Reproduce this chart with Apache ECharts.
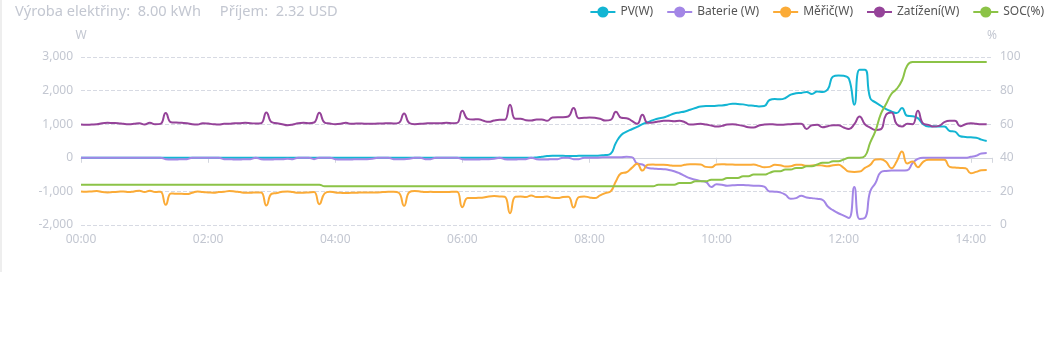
<!DOCTYPE html>
<html>
<head>
<meta charset="utf-8">
<script src="https://cdn.jsdelivr.net/npm/echarts@6/dist/echarts.min.js"></script>
<style>
  html, body { margin: 0; padding: 0; background: #ffffff; }
  #wrap { position: relative; width: 1049px; height: 343px; overflow: hidden; }
  #chart { position: absolute; left: 0; top: 0; width: 1049px; height: 343px; }
  #edge { position: absolute; left: 0; top: 0; width: 2px; height: 272px; background: #eeeeee; pointer-events: none; }
</style>
</head>
<body>
<div id="wrap">
  <div id="chart"></div>
  <div id="edge"></div>
</div>
<script>
// Summary line shown above the plot
const summaryText = 'Výroba elektřiny:  8.00 kWh     Příjem:  2.32 USD';

// Series names (legend order)
const seriesNames = ['PV(W)', 'Baterie (W)', 'Měřič(W)', 'Zatížení(W)', 'SOC(%)'];

// Time of day, 5-minute steps from 00:00 to 14:20
const times = [];
for (let m = 0; m <= 14 * 60 + 20; m += 5) {
  times.push(String(Math.floor(m / 60)).padStart(2, '0') + ':' + String(m % 60).padStart(2, '0'));
}

// Axis ranges / ticks
const powerTicks = { min: -2000, max: 3000, step: 1000 };
const socTicks = { min: 0, max: 100, step: 20 };

// PV production (W), one row per hour
const pv = [
  0,0,0,0,0,0,0,0,0,0,0,0,
  0,0,0,0,0,0,0,0,0,0,0,0,
  0,0,0,0,0,0,0,0,0,0,0,0,
  0,0,0,0,0,0,0,0,0,0,0,0,
  0,0,0,0,0,0,0,0,0,0,0,0,
  0,0,0,0,0,0,0,0,0,0,0,0,
  0,0,0,0,0,0,0,0,0,0,0,0,
  0,0,10,30,50,60,60,60,50,50,60,60,
  60,60,70,80,120,450,680,780,850,920,1000,1060,
  1120,1170,1200,1260,1320,1350,1380,1430,1480,1530,1540,1540,
  1550,1560,1580,1610,1600,1590,1560,1550,1530,1540,1720,1750,
  1740,1780,1880,1920,1930,1960,1900,1970,1960,2040,2420,2450,
  2440,2350,1580,2620,2620,1780,1650,1550,1450,1380,1330,1480,
  1250,1240,1180,1000,930,940,930,930,800,780,640,620,
  610,600,540,500
];

// Battery power (W)
const battery = [
  0,0,0,0,0,0,0,0,0,0,0,0,
  0,0,0,0,-40,-50,-50,-40,-40,0,0,0,
  0,0,0,-40,-40,-50,-50,-40,-40,0,-40,-50,
  -50,-40,-40,-30,-40,0,0,0,-40,0,0,0,
  -40,-50,-50,-50,-40,-40,-40,-30,0,0,0,-40,
  -40,-40,-30,0,0,-40,-40,0,0,0,0,0,
  -40,-50,-50,-50,-40,-40,-30,0,-40,-50,-50,-40,
  -40,0,-40,-50,-50,-40,-40,0,0,-40,-40,0,
  0,0,10,20,20,20,20,30,20,-170,-200,-300,
  -320,-330,-340,-360,-400,-460,-540,-610,-650,-690,-720,-870,
  -790,-800,-830,-820,-810,-810,-820,-830,-830,-860,-1000,-1010,
  -1030,-1100,-1220,-1200,-1130,-1180,-1200,-1220,-1250,-1450,-1560,-1650,
  -1720,-1790,-870,-1820,-1790,-1000,-750,-430,-390,-380,-380,-380,
  -370,-160,-30,0,0,0,0,0,0,0,0,0,
  30,60,130,140
];

// Grid meter (W)
const meter = [
  -1000,-1010,-1000,-990,-1020,-1030,-1020,-1010,-1000,-1020,-1000,-980,
  -1020,-980,-1020,-1010,-1400,-1060,-1070,-1070,-1080,-1040,-1000,-1020,
  -1030,-1040,-1020,-1010,-990,-1000,-1020,-1040,-1040,-1030,-1030,-1420,
  -1070,-1050,-1010,-1000,-1020,-1040,-1040,-1030,-1020,-1380,-1060,-1010,
  -1030,-1040,-1050,-1040,-1040,-1030,-1030,-1030,-1030,-1020,-1010,-1010,
  -1040,-1430,-1020,-990,-1000,-1020,-1010,-1020,-1020,-1020,-1010,-1010,
  -1470,-1200,-1200,-1190,-1180,-1150,-1140,-1150,-1160,-1650,-1160,-1150,
  -1170,-1120,-1170,-1170,-1150,-1190,-1200,-1170,-1160,-1480,-1170,-1150,
  -1180,-1200,-1120,-1050,-1000,-700,-460,-430,-300,-180,-380,-210,
  -200,-210,-210,-220,-240,-240,-210,-190,-190,-200,-270,-280,
  -200,-190,-200,-200,-210,-210,-210,-200,-240,-280,-270,-210,
  -220,-260,-250,-210,-210,-240,-230,-220,-230,-250,-220,-210,
  -300,-410,-420,-410,-300,-210,-50,-40,-120,-310,-110,190,
  -170,-110,-280,-120,-60,-60,-60,-60,-270,-290,-300,-310,
  -460,-420,-370,-360
];

// Household load (W)
const load = [
  990,985,990,995,1030,1040,1035,1030,1010,1000,1010,1030,
  990,1040,1000,1010,1330,1060,1050,1040,1030,1000,990,1030,
  1020,1000,990,1010,1010,1030,1030,1040,1030,1020,1030,1350,
  1060,1030,1000,970,990,1030,1040,1030,1050,1340,1050,1020,
  1000,1010,1040,1010,1020,1020,1010,1010,1020,1020,1030,1020,
  1040,1320,1030,1000,1010,1020,1030,1030,1030,1040,1030,1040,
  1400,1160,1140,1150,1100,1070,1110,1130,1130,1580,1160,1160,
  1120,1110,1140,1140,1100,1200,1210,1210,1230,1480,1180,1190,
  1200,1190,1160,1110,1130,1370,1190,1180,1100,1010,1280,1040,
  1050,1080,1100,1100,1090,1100,1060,990,1000,1010,990,960,
  930,950,990,1000,980,950,910,900,960,990,1000,990,
  980,990,1000,1010,1010,860,970,980,910,940,970,970,
  900,860,1000,1230,1000,900,830,850,1280,1350,1000,930,
  1010,1000,1400,1020,980,930,950,1060,1100,1100,940,1000,
  1030,1010,1000,1000
];

// Battery state of charge (%)
const soc = [
  24,24,24,24,24,24,24,24,24,24,24,24,
  24,24,24,24,24,24,24,24,24,24,24,24,
  24,24,24,24,24,24,24,24,24,24,24,24,
  24,24,24,24,24,24,24,24,24,24,23,23,
  23,23,23,23,23,23,23,23,23,23,23,23,
  23,23,23,23,23,23,23,23,23,23,23,23,
  23,23,23,23,23,23,23,23,23,23,23,23,
  23,23,23,23,23,23,23,23,23,23,23,23,
  23,23,23,23,23,23,23,23,23,23,23,23,
  23,24,24,24,24,25,25,25,26,26,26,27,
  27,27,28,28,28,29,29,30,30,30,31,32,
  32,33,33,34,34,35,35,36,37,37,38,38,
  39,40,40,40,41,49,56,66,72,78,81,86,
  95,97,97,97,97,97,97,97,97,97,97,97,
  97,97,97,97
];

const seriesColors = ['#13b5d3', '#a386e6', '#fbab37', '#954399', '#8cc347'];
const FONT = "'Noto Sans', 'DejaVu Sans', sans-serif";
const faint = '#c3c7d1';

function lineSeries(name, data, color, yIndex) {
  return {
    name: name,
    type: 'line',
    data: data,
    yAxisIndex: yIndex,
    xAxisIndex: 0,
    smooth: true,
    symbol: 'circle',
    showSymbol: false,
    color: color,
    lineStyle: { width: 2, color: color },
    itemStyle: { color: color }
  };
}

const lastIndex = times.length - 1;

const chart = echarts.init(document.getElementById('chart'), null, { renderer: 'canvas' });
chart.setOption({
  animation: false,
  textStyle: { fontFamily: FONT },
  title: {
    text: summaryText,
    left: 10,
    top: -1,
    textStyle: { fontSize: 14.6, fontWeight: 'normal', color: faint, fontFamily: FONT }
  },
  legend: {
    right: 0,
    top: 1,
    itemGap: 13,
    itemWidth: 25,
    itemHeight: 14,
    data: seriesNames,
    textStyle: { fontSize: 12, color: '#555555', fontFamily: FONT }
  },
  grid: { left: 81, right: 57, top: 57, bottom: 118 },
  xAxis: [
    {
      type: 'category',
      data: times,
      boundaryGap: false,
      position: 'bottom',
      axisLine: { show: false, onZero: false },
      axisTick: { show: false },
      axisLabel: { interval: 23, color: faint, fontSize: 12, margin: 9, fontFamily: FONT },
      splitLine: { show: false }
    },
    {
      type: 'category',
      data: times,
      boundaryGap: false,
      position: 'bottom',
      axisLine: { show: true, onZero: true, onZeroAxisIndex: 0, lineStyle: { color: '#d3d6de', width: 1 } },
      axisTick: {
        show: true,
        length: 5,
        interval: function (index) { return index % 24 === 0 || index === lastIndex; },
        lineStyle: { color: '#d3d6de' }
      },
      axisLabel: { show: false },
      splitLine: { show: false }
    }
  ],
  yAxis: [
    {
      type: 'value',
      min: powerTicks.min,
      max: powerTicks.max,
      interval: powerTicks.step,
      name: 'W',
      nameGap: 15,
      nameTextStyle: { color: faint, fontSize: 12, align: 'center', fontFamily: FONT },
      axisLine: { show: false },
      axisTick: { show: false },
      axisLabel: { color: faint, fontSize: 12, margin: 8, fontFamily: FONT },
      splitLine: { lineStyle: { type: 'dashed', color: '#d7dae3', width: 1 } }
    },
    {
      type: 'value',
      position: 'right',
      min: socTicks.min,
      max: socTicks.max,
      interval: socTicks.step,
      name: '%',
      nameGap: 15,
      nameTextStyle: { color: faint, fontSize: 12, align: 'center', fontFamily: FONT },
      axisLine: { show: false },
      axisTick: { show: false },
      axisLabel: { color: faint, fontSize: 12, margin: 8, fontFamily: FONT },
      splitLine: { show: false }
    }
  ],
  series: [
    lineSeries(seriesNames[0], pv, seriesColors[0], 0),
    lineSeries(seriesNames[1], battery, seriesColors[1], 0),
    lineSeries(seriesNames[2], meter, seriesColors[2], 0),
    lineSeries(seriesNames[3], load, seriesColors[3], 0),
    lineSeries(seriesNames[4], soc, seriesColors[4], 1)
  ]
});
</script>
</body>
</html>
